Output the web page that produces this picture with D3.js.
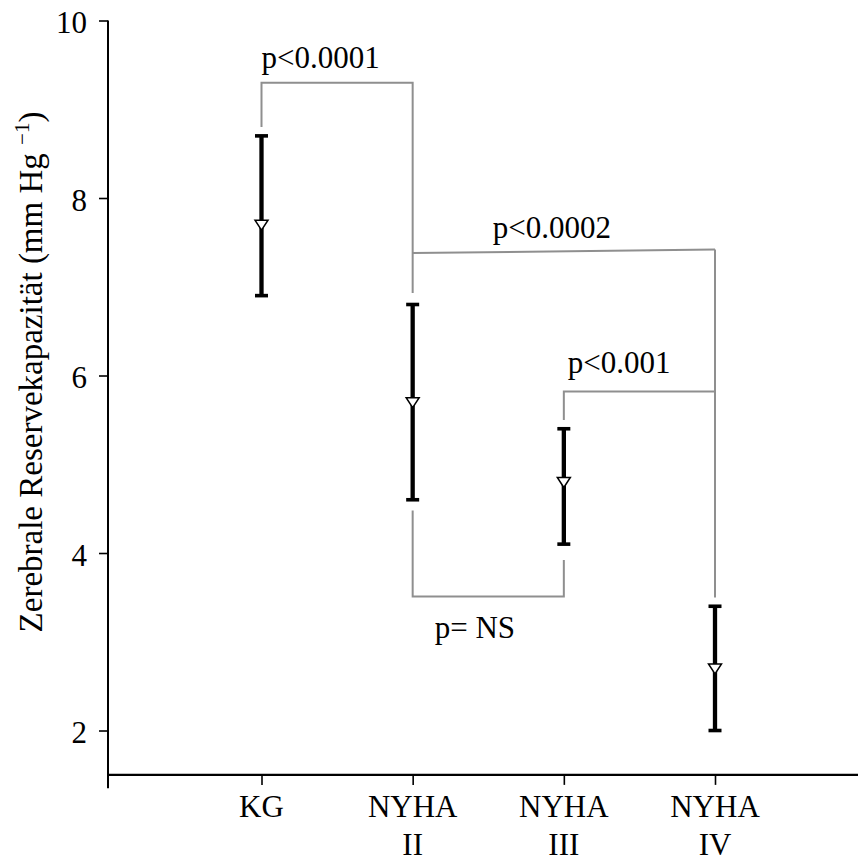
<!DOCTYPE html>
<html>
<head>
<meta charset="utf-8">
<script src="https://cdn.jsdelivr.net/npm/d3@7"></script>
<style>
  html, body { margin: 0; padding: 0; background: #fff; }
  svg { display: block; }
  text { font-family: "Liberation Serif", "Times New Roman", Times, serif; fill: #000; }
</style>
</head>
<body>
<svg id="chart" width="858" height="861"></svg>
<script>
// ---- data ----
const categories = ["KG", "NYHA II", "NYHA III", "NYHA IV"];
const categoryLines = [["KG"], ["NYHA", "II"], ["NYHA", "III"], ["NYHA", "IV"]];
const means = [7.7, 5.7, 4.8, 2.7];
const upper = [8.7, 6.8, 5.4, 3.4];
const lower = [6.9, 4.6, 4.1, 2.0];
const yTicks = [2, 4, 6, 8, 10];
const yTitle = "Zerebrale Reservekapazität (mm Hg";
const yTitleSup = "\u22121";

// significance brackets (category, value) paths and labels
const brackets = [
  { label: "p<0.0001", path: [["KG", 8.8], ["KG", 9.3], ["NYHA II", 9.3], ["NYHA II", 6.93]], at: ["KG", 9.47], anchor: "start" },
  { label: "p<0.0002", path: [["NYHA II", 7.38], ["NYHA IV", 7.42]], at: ["NYHA II", 7.55], anchor: "start", dx: 80 },
  { label: "p<0.001",  path: [["NYHA III", 5.5], ["NYHA III", 5.82], ["NYHA IV", 5.82]], at: ["NYHA III", 6.03], anchor: "start", dx: 4 },
  { label: "",         path: [["NYHA IV", 7.42], ["NYHA IV", 3.5]], at: null },
  { label: "p= NS",    path: [["NYHA II", 4.48], ["NYHA II", 3.51], ["NYHA III", 3.51], ["NYHA III", 3.92]], at: ["NYHA II", 3.04], anchor: "start", dx: 22 }
];

// ---- scales ----
const svg = d3.select("#chart");
const y = d3.scaleLinear().domain([1.35, 10]).range([788.2, 20.5]);
const x = d3.scalePoint().domain(categories).range([261.5, 715]);
const axisX0 = 108, axisX1 = 858;
const xAxisVal = 1.5;

// ---- y axis ----
const yAxis = svg.append("g").attr("transform", `translate(${axisX0},0)`)
  .call(d3.axisLeft(y).tickValues(yTicks).tickSize(9).tickPadding(12).tickFormat(d3.format("d")));
yAxis.select(".domain").remove();
yAxis.selectAll(".tick line").attr("stroke", "#000").attr("stroke-width", 1.6);
yAxis.selectAll(".tick text").attr("font-size", 31).attr("dy", "0.4em").attr("fill", "#000");
svg.append("line").attr("x1", axisX0).attr("x2", axisX0)
  .attr("y1", y(10)).attr("y2", y(1.35)).attr("stroke", "#000").attr("stroke-width", 2);

// ---- x axis ----
const xAxis = svg.append("g").attr("transform", `translate(0,${y(xAxisVal)})`)
  .call(d3.axisBottom(x).tickSize(10).tickFormat(""));
xAxis.select(".domain").remove();
xAxis.selectAll(".tick line").attr("stroke", "#000").attr("stroke-width", 1.6);
svg.append("line").attr("x1", axisX0).attr("x2", axisX1)
  .attr("y1", y(xAxisVal)).attr("y2", y(xAxisVal)).attr("stroke", "#000").attr("stroke-width", 2.2);

categories.forEach((c, i) => {
  const t = svg.append("text").attr("x", x(c)).attr("y", 817)
    .attr("text-anchor", "middle").attr("font-size", 31);
  categoryLines[i].forEach((ln, j) => {
    t.append("tspan").attr("x", x(c)).attr("dy", j === 0 ? 0 : 38).text(ln);
  });
});

// ---- y title ----
const yt = svg.append("text")
  .attr("transform", `translate(42,${372}) rotate(-90)`)
  .attr("text-anchor", "middle").attr("font-size", 33);
yt.append("tspan").text(yTitle + " ");
yt.append("tspan").attr("font-size", 21).attr("dy", -13).text(yTitleSup);
yt.append("tspan").attr("dy", 13).text(")");

// ---- brackets ----
const line = d3.line().x(d => x(d[0])).y(d => y(d[1]));
brackets.forEach(b => {
  svg.append("path").attr("d", line(b.path)).attr("fill", "none")
    .attr("stroke", "#8f8f8f").attr("stroke-width", 2);
  if (b.at) {
    svg.append("text").attr("x", x(b.at[0]) + (b.dx || 0)).attr("y", y(b.at[1]))
      .attr("text-anchor", b.anchor).attr("font-size", 31).text(b.label);
  }
});

// ---- error bars ----
const g = svg.append("g");
categories.forEach((c, i) => {
  const cx = x(c);
  g.append("line").attr("x1", cx).attr("x2", cx).attr("y1", y(upper[i])).attr("y2", y(lower[i]))
    .attr("stroke", "#000").attr("stroke-width", 4.3);
  [upper[i], lower[i]].forEach(v => {
    g.append("line").attr("x1", cx - 6.5).attr("x2", cx + 6.5).attr("y1", y(v)).attr("y2", y(v))
      .attr("stroke", "#000").attr("stroke-width", 3.6);
  });
  const my = y(means[i]) + 0.5;
  g.append("path")
    .attr("d", `M${cx - 6.5},${my - 5} L${cx + 6.5},${my - 5} L${cx},${my + 5} Z`)
    .attr("fill", "#fff").attr("stroke", "#000").attr("stroke-width", 1.5);
});
</script>
</body>
</html>
